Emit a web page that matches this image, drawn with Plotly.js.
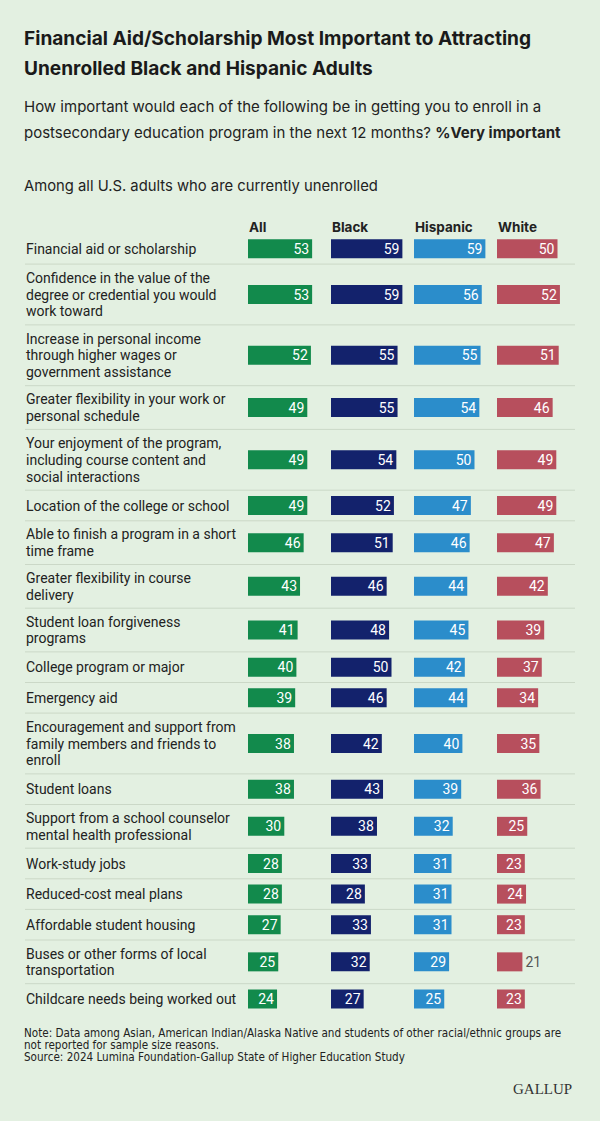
<!DOCTYPE html>
<html><head><meta charset="utf-8">
<script src="https://cdn.plot.ly/plotly-3.0.1.min.js"></script>
<style>html,body{margin:0;padding:0;background:#e3f0e1;}</style>
</head><body><div id="chart" style="width:600px;height:1121px"></div>
<script>
const categories = [
  "Financial aid or scholarship",
  "Confidence in the value of the<br>degree or credential you would<br>work toward",
  "Increase in personal income<br>through higher wages or<br>government assistance",
  "Greater flexibility in your work or<br>personal schedule",
  "Your enjoyment of the program,<br>including course content and<br>social interactions",
  "Location of the college or school",
  "Able to finish a program in a short<br>time frame",
  "Greater flexibility in course<br>delivery",
  "Student loan forgiveness<br>programs",
  "College program or major",
  "Emergency aid",
  "Encouragement and support from<br>family members and friends to<br>enroll",
  "Student loans",
  "Support from a school counselor<br>mental health professional",
  "Work-study jobs",
  "Reduced-cost meal plans",
  "Affordable student housing",
  "Buses or other forms of local<br>transportation",
  "Childcare needs being worked out"
];
const groups = ["All", "Black", "Hispanic", "White"];
const allValues      = [53,53,52,49,49,49,46,43,41,40,39,38,38,30,28,28,27,25,24];
const blackValues    = [59,59,55,55,54,52,51,46,48,50,46,42,43,38,33,28,33,32,27];
const hispanicValues = [59,56,55,54,50,47,46,44,45,42,44,40,39,32,31,31,31,29,25];
const whiteValues    = [50,52,51,46,49,49,47,42,39,37,34,35,36,25,23,24,23,21,23];

const seriesValues = [allValues, blackValues, hispanicValues, whiteValues];
const colors = ["#128a4c", "#13226c", "#2b8dcb", "#b74f5d"];

const FONT = "Inter, 'Noto Sans', Roboto, sans-serif";
const LABEL_FONT = "Roboto, 'Noto Sans', sans-serif";
const W = 600, H = 1121;
const rowHeightByLines = {1: 30.6, 2: 43.7, 3: 60.8};
const tableTop = 233.5;
const lineSpacing = 16.7;

// row layout derived from label line counts
const lineCounts = categories.map(c => c.split("<br>").length);
const rowTops = [], rowCenters = [];
let yy = tableTop;
lineCounts.forEach(n => { rowTops.push(yy); rowCenters.push(yy + rowHeightByLines[n] / 2); yy += rowHeightByLines[n]; });

const colStarts = [248, 331, 414, 497];
const colWidth = 83;
const pxPerUnit = 1.21;
const axisMax = colWidth / pxPerUnit;

const traces = seriesValues.map((vals, i) => ({
  type: "bar",
  orientation: "h",
  x: vals,
  y: rowCenters,
  width: 19,
  xaxis: i === 0 ? "x" : "x" + (i + 1),
  yaxis: "y",
  marker: {color: colors[i], line: {width: 0}},
  text: vals.map(String),
  textposition: vals.map(v => v < 23 ? "outside" : "inside"),
  insidetextanchor: "end",
  textangle: 0,
  constraintext: "none",
  insidetextfont: {family: LABEL_FONT, size: 14, color: "#ffffff"},
  outsidetextfont: {family: LABEL_FONT, size: 14, color: "#555555"},
  cliponaxis: false,
  hoverinfo: "skip",
  showlegend: false
}));

const layout = {
  width: W, height: H,
  margin: {l: 0, r: 0, t: 0, b: 0},
  paper_bgcolor: "#e3f0e1",
  plot_bgcolor: "rgba(0,0,0,0)",
  showlegend: false,
  yaxis: {range: [H, 0], domain: [0, 1], visible: false, fixedrange: true},
  annotations: [],
  shapes: []
};
colStarts.forEach((s, i) => {
  const key = i === 0 ? "xaxis" : "xaxis" + (i + 1);
  layout[key] = {domain: [s / W, (s + colWidth) / W], range: [0, axisMax], visible: false, fixedrange: true, anchor: "y"};
});

function txt(text, x, y, size, opts = {}) {
  layout.annotations.push(Object.assign({
    text: text, xref: "paper", yref: "y", x: x / W, y: y,
    xanchor: "left", yanchor: "middle", showarrow: false,
    font: {family: FONT, size: size, color: "#222222"}
  }, opts));
}

// Titles
const TITLE_FONT = {family: FONT, size: 19.1, color: "#1a1a1a"};
txt("<b>Financial Aid/Scholarship Most Important to Attracting</b>", 22, 38, 19.1, {font: TITLE_FONT});
txt("<b>Unenrolled Black and Hispanic Adults</b>", 22, 68, 19.1, {font: TITLE_FONT});
txt("How important would each of the following be in getting you to enroll in a", 22, 106, 15);
txt("postsecondary education program in the next 12 months? <b>%Very important</b>", 22, 132.5, 15);
txt("Among all U.S. adults who are currently unenrolled", 22, 186, 14.8);

// column headers
groups.forEach((g, i) => txt("<b>" + g + "</b>", colStarts[i] - 1, 227, 13.5));

// row labels (one annotation per line)
categories.forEach((c, r) => {
  const lines = c.split("<br>");
  lines.forEach((ln, k) => {
    const y = rowCenters[r] + (k - (lines.length - 1) / 2) * lineSpacing;
    txt(ln, 24, y, 14, {font: {family: LABEL_FONT, size: 14, color: "#222222"}});
  });
});

// separators
rowTops.slice(1).forEach(t => {
  layout.shapes.push({type: "line", xref: "paper", yref: "y", x0: 25 / W, x1: 575 / W, y0: t, y1: t,
    line: {color: "#cbd8c7", width: 1}, layer: "below"});
});

// footer
const NOTE_FONT = {family: "'Liberation Sans Narrow', 'Arial Narrow', 'DejaVu Sans Condensed', sans-serif", size: 11.6, color: "#222"};
txt("Note: Data among Asian, American Indian/Alaska Native and students of other racial/ethnic groups are", 22, 1033, 11.6, {font: NOTE_FONT});
txt("not reported for sample size reasons.", 22, 1045, 11.6, {font: NOTE_FONT});
txt("Source: 2024 Lumina Foundation-Gallup State of Higher Education Study", 22, 1057, 11.6, {font: NOTE_FONT});
txt("GALLUP", 574, 1089, 15, {xanchor: "right", font: {family: "'Liberation Serif', 'DejaVu Serif', serif", size: 15, color: "#333"}});

Plotly.newPlot("chart", traces, layout, {displayModeBar: false, staticPlot: true});
</script>
</body></html>
